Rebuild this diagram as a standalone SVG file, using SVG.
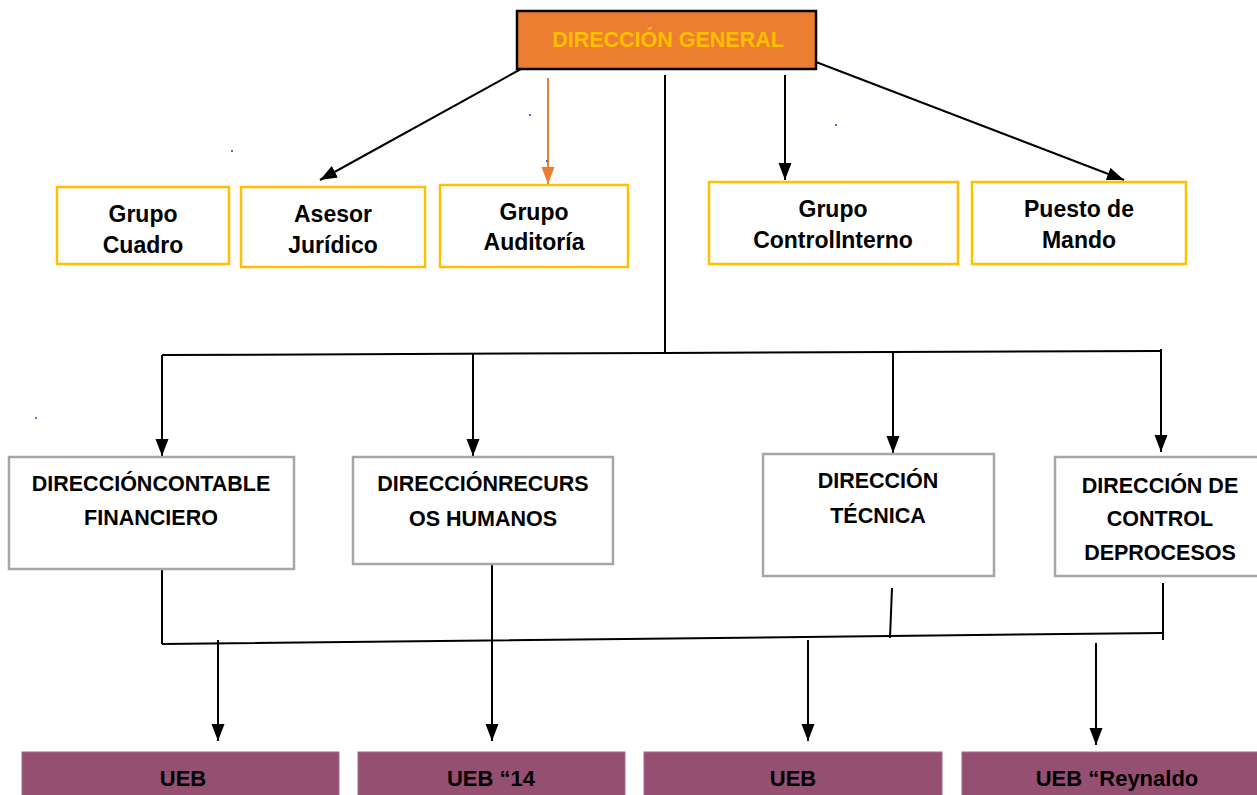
<svg xmlns="http://www.w3.org/2000/svg" width="1257" height="795" viewBox="0 0 1257 795">
<style>
.t{font-family:"Liberation Sans",Arial,sans-serif;font-weight:bold;font-size:21.5px;fill:#000;text-anchor:middle}
.t2{font-size:23px}
.t4{font-size:22px}
.y{fill:#fff;stroke:#FFC000;stroke-width:2.5}
.g{fill:#fff;stroke:#A6A6A6;stroke-width:2.5}
.p{fill:#954F72;stroke:#A86A88;stroke-width:1}
.c{stroke:#000;stroke-width:2;fill:none}
</style>
<defs>
<marker id="a" markerUnits="userSpaceOnUse" markerWidth="18" markerHeight="14" refX="17" refY="6.5" orient="auto">
<path d="M0,0 L17,6.5 L0,13 Z" fill="#000"/>
</marker>
<marker id="o" markerUnits="userSpaceOnUse" markerWidth="18" markerHeight="14" refX="17" refY="6.5" orient="auto">
<path d="M0,0 L17,6.5 L0,13 Z" fill="#ED7D31"/>
</marker>
</defs>
<rect width="1257" height="795" fill="#fff"/>
<g id="connectors">
<line class="c" x1="521" y1="69" x2="320" y2="180" marker-end="url(#a)"/>
<line x1="548" y1="78" x2="548" y2="184" stroke="#ED7D31" stroke-width="2" marker-end="url(#o)"/>
<line class="c" x1="665" y1="75" x2="665" y2="353"/>
<line class="c" x1="785" y1="75" x2="785" y2="180" marker-end="url(#a)"/>
<line class="c" x1="816" y1="62" x2="1124" y2="180" marker-end="url(#a)"/>
<polyline class="c" points="162,355 665,353 1160,351"/>
<line class="c" x1="162" y1="355" x2="162" y2="456" marker-end="url(#a)"/>
<line class="c" x1="473" y1="353" x2="473" y2="456" marker-end="url(#a)"/>
<line class="c" x1="893" y1="352" x2="893" y2="453" marker-end="url(#a)"/>
<line class="c" x1="1161" y1="349" x2="1161" y2="452" marker-end="url(#a)"/>
<line class="c" x1="162" y1="569" x2="162" y2="644"/>
<polyline class="c" points="162,644 890,636 1162,633"/>
<line class="c" x1="892" y1="588" x2="890" y2="638"/>
<line class="c" x1="1163" y1="583" x2="1163" y2="640"/>
<line class="c" x1="218" y1="640" x2="218" y2="741" marker-end="url(#a)"/>
<line class="c" x1="492" y1="560" x2="492" y2="741" marker-end="url(#a)"/>
<line class="c" x1="808" y1="640" x2="808" y2="741" marker-end="url(#a)"/>
<line class="c" x1="1096" y1="643" x2="1096" y2="745" marker-end="url(#a)"/>
</g>
<g id="dots" fill="#4472C4">
<rect x="231" y="150" width="2" height="2"/>
<rect x="529" y="114" width="2" height="2"/>
<rect x="835" y="124" width="2" height="2"/>
<rect x="35" y="417" width="2" height="2"/>
<rect x="546" y="160" width="2" height="2"/>
</g>
<g id="direccion-general">
<rect x="517" y="11" width="299" height="58" fill="#ED7D31" stroke="#000" stroke-width="2.5"/>
<text x="668" y="47" class="t" style="fill:#FFC000">DIRECCIÓN GENERAL</text>
</g>
<g id="grupo-cuadro">
<rect class="y" x="57" y="187" width="172" height="77"/>
<text class="t t2" x="143" y="222">Grupo</text>
<text class="t t2" x="143" y="253">Cuadro</text>
</g>
<g id="asesor-juridico">
<rect class="y" x="241" y="187" width="184" height="80"/>
<text class="t t2" x="333" y="222">Asesor</text>
<text class="t t2" x="333" y="253">Jurídico</text>
</g>
<g id="grupo-auditoria">
<rect class="y" x="440" y="185" width="188" height="82"/>
<text class="t t2" x="534" y="220">Grupo</text>
<text class="t t2" x="534" y="250">Auditoría</text>
</g>
<g id="grupo-control-interno">
<rect class="y" x="709" y="182" width="249" height="82"/>
<text class="t t2" x="833" y="217">Grupo</text>
<text class="t t2" x="833" y="248">ControlInterno</text>
</g>
<g id="puesto-de-mando">
<rect class="y" x="972" y="182" width="214" height="82"/>
<text class="t t2" x="1079" y="217">Puesto de</text>
<text class="t t2" x="1079" y="248">Mando</text>
</g>
<g id="dir-contable">
<rect class="g" x="9" y="457" width="285" height="112"/>
<text class="t" x="151" y="491">DIRECCIÓNCONTABLE</text>
<text class="t" x="151" y="525">FINANCIERO</text>
</g>
<g id="dir-recursos">
<rect class="g" x="353" y="457" width="260" height="107"/>
<text class="t" x="483" y="491">DIRECCIÓNRECURS</text>
<text class="t" x="483" y="526">OS HUMANOS</text>
</g>
<g id="dir-tecnica">
<rect class="g" x="763" y="454" width="231" height="122"/>
<text class="t" x="878" y="488">DIRECCIÓN</text>
<text class="t" x="878" y="523">TÉCNICA</text>
</g>
<g id="dir-control-procesos">
<rect class="g" x="1055" y="457" width="210" height="119"/>
<text class="t" x="1160" y="493">DIRECCIÓN DE</text>
<text class="t" x="1160" y="526">CONTROL</text>
<text class="t" x="1160" y="560">DEPROCESOS</text>
</g>
<g id="ueb-1">
<rect class="p" x="22" y="752" width="317" height="50"/>
<text class="t t4" x="183" y="786">UEB</text>
</g>
<g id="ueb-2">
<rect class="p" x="358" y="752" width="267" height="50"/>
<text class="t t4" x="491" y="786">UEB “14</text>
</g>
<g id="ueb-3">
<rect class="p" x="644" y="752" width="298" height="50"/>
<text class="t t4" x="793" y="786">UEB</text>
</g>
<g id="ueb-4">
<rect class="p" x="962" y="752" width="300" height="50"/>
<text class="t t4" x="1117" y="786">UEB “Reynaldo</text>
</g>
</svg>
